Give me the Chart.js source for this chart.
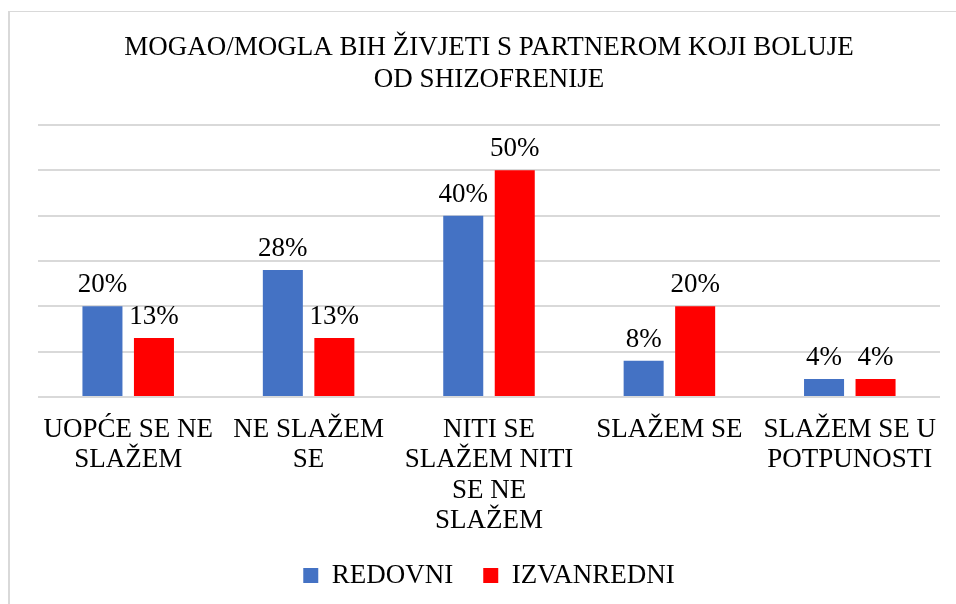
<!DOCTYPE html>
<html>
<head>
<meta charset="utf-8">
<script src="https://cdn.jsdelivr.net/npm/chart.js@4"></script>
<style>
	html, body { margin: 0; padding: 0; background: #fff; overflow: hidden; }
	#frame {
		position: absolute; left: 8px; top: 11px; width: 1000px; height: 1000px;
		border-left: 2px solid #d9d9d9; border-top: 1px solid #d9d9d9;
	}
	#wrap { position: absolute; left: 0; top: 0; width: 956px; height: 604px; }
</style>
</head>
<body>
<div id="frame"></div>
<div id="wrap"><canvas id="chart" width="956" height="604"></canvas></div>
<script>
const categories = [
	['UOPĆE SE NE', 'SLAŽEM'],
	['NE SLAŽEM', 'SE'],
	['NITI SE', 'SLAŽEM NITI', 'SE NE', 'SLAŽEM'],
	'SLAŽEM SE',
	['SLAŽEM SE U', 'POTPUNOSTI']
];
const redovni = [20, 28, 40, 8, 4];
const izvanredni = [13, 13, 50, 20, 4];

const serif = '"Liberation Serif", "Times New Roman", serif';

// draws the percentage above each bar
const valueLabels = {
	id: 'valueLabels',
	afterDatasetsDraw(chart) {
		let ctx = chart.ctx;
		ctx.save();
		ctx.font = '27px ' + serif;
		ctx.fillStyle = '#000';
		ctx.textAlign = 'center';
		ctx.textBaseline = 'alphabetic';
		chart.data.datasets.forEach((ds, i) => {
			chart.getDatasetMeta(i).data.forEach((bar, j) => {
				ctx.fillText(ds.data[j] + '%', bar.x, bar.y - 14);
			});
		});
		ctx.restore();
	}
};

// pull the legend a bit closer to the axis labels
const legendShift = {
	id: 'legendShift',
	afterLayout(chart) {
		chart.legend.top -= 14;
		chart.legend.bottom -= 14;
	}
};

document.addEventListener('DOMContentLoaded', () => {
	let context = document.getElementById('chart').getContext('2d');
	new Chart(context, {
		type: 'bar',
		data: {
			labels: categories,
			datasets: [{
				label: 'REDOVNI',
				data: redovni,
				backgroundColor: '#4472C4'
			}, {
				label: 'IZVANREDNI',
				data: izvanredni,
				backgroundColor: '#FF0000'
			}]
		},
		options: {
			responsive: false,
			animation: false,
			devicePixelRatio: 1,
			categoryPercentage: 0.571,
			barPercentage: 0.777,
			layout: { padding: { left: 38, right: 16, top: 16, bottom: -9 } },
			plugins: {
				title: {
					display: true,
					text: ['MOGAO/MOGLA BIH ŽIVJETI S PARTNEROM KOJI BOLUJE', 'OD SHIZOFRENIJE'],
					color: '#000',
					font: { family: serif, size: 27, weight: 'normal', lineHeight: 1.185 },
					padding: { top: 16, bottom: 29 }
				},
				legend: {
					position: 'bottom',
					labels: {
						color: '#000',
						font: { family: serif, size: 27 },
						boxWidth: 15,
						boxHeight: 15,
						padding: 30
					}
				},
				tooltip: { enabled: false }
			},
			scales: {
				x: {
					grid: { display: false },
					border: { display: false },
					ticks: {
						color: '#000',
						maxRotation: 0,
						autoSkip: false,
						padding: 10,
						font: { family: serif, size: 27, lineHeight: 1.12 }
					}
				},
				y: {
					min: 0,
					max: 60,
					ticks: { display: false, stepSize: 10 },
					border: { display: false },
					grid: { color: '#d9d9d9', lineWidth: 2, drawTicks: false }
				}
			}
		},
		plugins: [valueLabels, legendShift]
	});
});
</script>
</body>
</html>
